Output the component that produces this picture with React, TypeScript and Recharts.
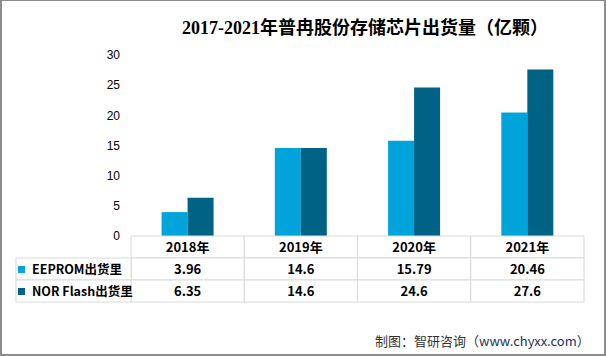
import { BarChart, Bar, XAxis, YAxis } from 'recharts';

const years = ['2018年', '2019年', '2020年', '2021年'];
const eeprom = [3.96, 14.6, 15.79, 20.46];
const norFlash = [6.35, 14.6, 24.6, 27.6];
const yTicks = [0, 5, 10, 15, 20, 25, 30];

const seriesNames = ['EEPROM出货里', 'NOR Flash出货里'];
const light = '#00A3DA';
const dark = '#006386';
const gridLine = '#D9D9D9';
const tableFont = '"Noto Sans CJK SC", "Noto Sans", sans-serif';

const data = years.map((year, i) => ({ year, eeprom: eeprom[i], nor: norFlash[i] }));

const COL_W = 113.25;
const ROW_H = 22;
const LEGEND_W = 115;

function TableTick(props: any) {
  const { x, y, payload } = props;
  const i = years.indexOf(payload.value);
  const left = x - COL_W / 2;
  const rows = [payload.value, String(eeprom[i]), String(norFlash[i])];

  return (
    <g>
      {rows.map((txt, r) => (
        <g key={r}>
          <rect x={left} y={y + r * ROW_H} width={COL_W} height={ROW_H} fill="#fff" stroke={gridLine} />
          <text
            x={x}
            y={y + r * ROW_H + ROW_H / 2 + 5}
            textAnchor="middle"
            fontSize={13}
            fontWeight="bold"
            fontFamily={tableFont}
            fill="#000"
          >
            {txt}
          </text>
        </g>
      ))}
      {i === 0 &&
        seriesNames.map((name, r) => {
          const top = y + (r + 1) * ROW_H;
          return (
            <g key={name}>
              <rect x={left - LEGEND_W} y={top} width={LEGEND_W} height={ROW_H} fill="#fff" stroke={gridLine} />
              <rect x={left - LEGEND_W + 2} y={top + 8} width={7} height={7} fill={r === 0 ? light : dark} />
              <text
                x={left - LEGEND_W + 16}
                y={top + ROW_H / 2 + 5}
                fontSize={12.5}
                fontWeight="bold"
                fontFamily={tableFont}
                fill="#000"
              >
                {name}
              </text>
            </g>
          );
        })}
    </g>
  );
}

export default function App() {
  return (
    <div style={{ position: 'absolute', left: 0, top: 0, width: 606, height: 356, background: '#fff' }}>
      <div
        style={{
          position: 'absolute',
          left: 0,
          top: 17,
          width: 606,
          textAlign: 'center',
          paddingLeft: 124,
          boxSizing: 'border-box',
          fontSize: 18,
          fontWeight: 'bold',
          fontFamily: '"Liberation Serif", "Noto Sans CJK SC", serif',
          color: '#000',
          lineHeight: '22px',
        }}
      >
        2017-2021年普冉股份存储芯片出货量（亿颗）
      </div>
      <BarChart
        width={606}
        height={356}
        data={data}
        margin={{ top: 55, right: 22, bottom: 54, left: 91 }}
        barCategoryGap="27%"
        barGap={0}
      >
        <XAxis
          dataKey="year"
          height={66}
          axisLine={false}
          tickLine={false}
          tickSize={0}
          tickMargin={0}
          interval={0}
          tick={<TableTick />}
        />
        <YAxis
          width={40}
          domain={[0, 30]}
          ticks={yTicks}
          axisLine={false}
          tickLine={false}
          tickMargin={5}
          tick={{ fill: '#000', fontSize: 12, fontFamily: '"Liberation Sans", Arial, sans-serif' }}
        />
        <Bar dataKey="eeprom" fill={light} isAnimationActive={false} />
        <Bar dataKey="nor" fill={dark} isAnimationActive={false} />
      </BarChart>
      <div
        style={{
          position: 'absolute',
          left: 375,
          top: 333,
          fontSize: 13,
          fontFamily: '"Noto Sans CJK SC", sans-serif',
          color: '#333',
          lineHeight: '16px',
          whiteSpace: 'nowrap',
        }}
      >
        制图：智研咨询（<span style={{ color: '#1F2F5A' }}>www.chyxx.com</span>）
      </div>
      <div
        style={{
          position: 'absolute',
          left: 0,
          top: 0,
          width: 606,
          height: 356,
          boxSizing: 'border-box',
          border: '2px solid #8C8C8C',
          borderTopWidth: 1,
          pointerEvents: 'none',
        }}
      />
    </div>
  );
}
